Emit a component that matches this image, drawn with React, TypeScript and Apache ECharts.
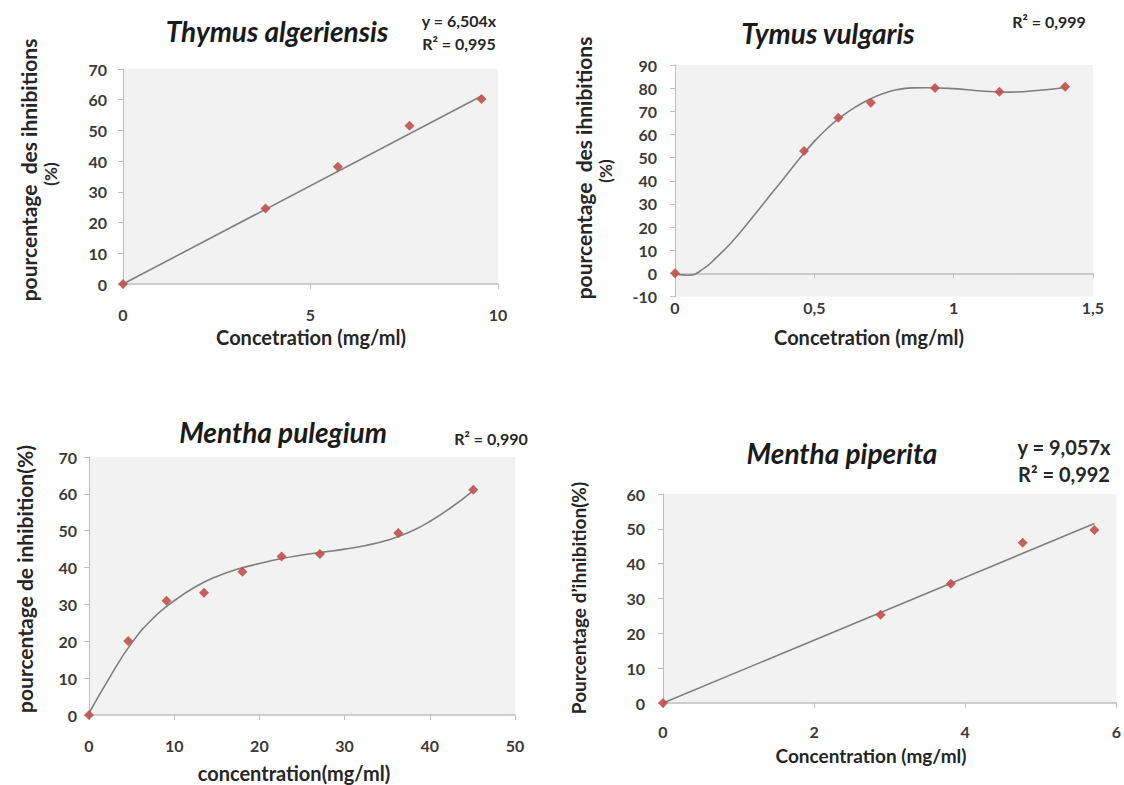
import React, { useEffect, useRef } from "react";
import * as echarts from "echarts";

// ---------- Data ----------
// Panel 1 : Thymus algeriensis
const p1X = [0, 3.8, 5.73, 7.64, 9.56];
const p1Y = [0, 24.6, 38.2, 51.5, 60.2];
const p1TrendX = [0, 9.56];
const p1TrendY = [0, 61.2];
const p1XTicks = { min: 0, max: 10, interval: 5 };
const p1YTicks = { min: 0, max: 70, interval: 10 };

// Panel 2 : Tymus vulgaris
const p2X = [0, 0.463, 0.586, 0.703, 0.933, 1.164, 1.4];
const p2Y = [0, 52.8, 67.2, 73.7, 80.1, 78.4, 80.6];
const p2CurveX = [0, 0.05, 0.1, 0.15, 0.2, 0.25, 0.3, 0.35, 0.4, 0.45, 0.5, 0.55, 0.6, 0.65, 0.7, 0.75, 0.8, 0.85, 0.9, 1.0, 1.1, 1.2, 1.3, 1.4];
const p2CurveY = [-0.3, -0.8, 1.8, 7, 13, 20, 27.5, 35, 42.5, 50, 57, 63, 68, 72, 75.3, 77.8, 79.4, 80.1, 80.2, 79.8, 78.8, 78.3, 79.0, 80.3];
const p2XTicks = { min: 0, max: 1.5, interval: 0.5 };
const p2YTicks = { min: -10, max: 90, interval: 10 };

// Panel 3 : Mentha pulegium
const p3X = [0, 4.6, 9.1, 13.5, 18.0, 22.6, 27.1, 36.3, 45.1];
const p3Y = [0, 20.1, 31.0, 33.2, 38.9, 43.0, 43.7, 49.4, 61.1];
const p3CurveX = [0, 2.5, 5, 7.5, 10, 12.5, 15, 17.5, 20, 22.5, 25, 27.5, 30, 32.5, 35, 37.5, 40, 42.5, 45];
const p3CurveY = [0.5, 10.5, 19.5, 26.2, 31, 34.8, 37.6, 39.6, 41.1, 42.4, 43.4, 44.2, 45.0, 46.0, 47.4, 49.5, 52.5, 56.3, 60.7];
const p3XTicks = { min: 0, max: 50, interval: 10 };
const p3YTicks = { min: 0, max: 70, interval: 10 };

// Panel 4 : Mentha piperita
const p4X = [0, 2.88, 3.81, 4.76, 5.71];
const p4Y = [0, 25.3, 34.2, 46.0, 49.7];
const p4TrendX = [0, 5.71];
const p4TrendY = [0, 51.5];
const p4XTicks = { min: 0, max: 6, interval: 2 };
const p4YTicks = { min: 0, max: 60, interval: 10 };

// Texts
const titles = ["Thymus algeriensis", "Tymus vulgaris", "Mentha pulegium", "Mentha piperita"];
const equations = [["y = 6,504x", "R² = 0,995"], ["R² = 0,999"], ["R² = 0,990"], ["y = 9,057x", "R² = 0,992"]];
const yNames = [
  ["pourcentage  des ihnibitions", "(%)"],
  ["pourcentage  des ihnibitions", "(%)"],
  ["pourcentage de inhibition(%)"],
  ["Pourcentage d’ihnibition(%)"],
];
const xNames = ["Concetration (mg/ml)", "Concetration (mg/ml)", "concentration(mg/ml)", "Concentration (mg/ml)"];

const zip = (xs: number[], ys: number[]) => xs.map((x, i) => [x, ys[i]]);

const FONT = "Lato, 'Open Sans', 'DejaVu Sans', sans-serif";
const AXIS_COLOR = "#bfbfbf";
const LABEL_COLOR = "#3a3a3a";
const TEXT_COLOR = "#262626";
const LINE_COLOR = "#7f7f7f";
const MARK_COLOR = "#c0504d";

const fmt = (v: number) => String(v).replace(".", ",");

function yAxisOf(gridIndex: number, t: { min: number; max: number; interval: number }, margin: number) {
  return {
    type: "value",
    gridIndex,
    min: t.min,
    max: t.max,
    interval: t.interval,
    axisLine: { show: true, lineStyle: { color: AXIS_COLOR, width: 1 } },
    axisTick: { show: true, length: 5, lineStyle: { color: AXIS_COLOR } },
    axisLabel: { fontFamily: FONT, fontWeight: "bold", fontSize: 16, color: LABEL_COLOR, margin, formatter: fmt },
    splitLine: { show: false },
  };
}

function xAxisOf(gridIndex: number, t: { min: number; max: number; interval: number }, margin: number, extra: any = {}) {
  return {
    type: "value",
    gridIndex,
    position: "bottom",
    min: t.min,
    max: t.max,
    interval: t.interval,
    axisLine: { show: true, onZero: false, lineStyle: { color: AXIS_COLOR, width: 1.5 } },
    axisTick: { show: true, length: 5, lineStyle: { color: AXIS_COLOR } },
    axisLabel: { fontFamily: FONT, fontWeight: "bold", fontSize: 16, color: LABEL_COLOR, margin, formatter: fmt },
    splitLine: { show: false },
    ...extra,
  };
}

function lineSeries(xi: number, yi: number, data: number[][], smooth: boolean) {
  return {
    type: "line",
    xAxisIndex: xi,
    yAxisIndex: yi,
    data,
    smooth: smooth ? 0.5 : false,
    showSymbol: false,
    symbol: "none",
    lineStyle: { color: LINE_COLOR, width: 1.6 },
    z: 2,
  };
}

function pointSeries(xi: number, yi: number, data: number[][]) {
  return {
    type: "scatter",
    xAxisIndex: xi,
    yAxisIndex: yi,
    data,
    symbol: "diamond",
    symbolSize: 10,
    itemStyle: { color: MARK_COLOR, opacity: 0.9 },
    z: 3,
  };
}

function text(t: string, x: number, y: number, size: number, opts: any = {}) {
  return {
    type: "text",
    x,
    y,
    rotation: opts.rotation || 0,
    style: {
      text: t,
      fontFamily: FONT,
      fontWeight: "bold",
      fontStyle: opts.italic ? "italic" : "normal",
      fontSize: size,
      fill: opts.color || TEXT_COLOR,
      align: "center",
      verticalAlign: "middle",
    },
  };
}

export default function App() {
  const ref = useRef<HTMLDivElement>(null);

  useEffect(() => {
    if (!ref.current) return;
    const chart = echarts.init(ref.current, undefined, { renderer: "svg" });
    const gridStyle = { show: true, backgroundColor: "#f2f2f2", borderWidth: 0, containLabel: false };
    const R = Math.PI / 2;

    const option: any = {
      animation: false,
      backgroundColor: "#ffffff",
      grid: [
        { left: 123, top: 69, width: 375, height: 215, ...gridStyle },
        { left: 675, top: 65, width: 418, height: 231.5, ...gridStyle },
        { left: 89, top: 457, width: 426, height: 258, ...gridStyle },
        { left: 663, top: 494, width: 455, height: 209, ...gridStyle },
      ],
      xAxis: [
        xAxisOf(0, p1XTicks, 22),
        xAxisOf(1, p2XTicks, 3, { axisLine: { show: false, onZero: false }, axisTick: { show: false } }),
        xAxisOf(2, p3XTicks, 22),
        xAxisOf(3, p4XTicks, 20),
        xAxisOf(1, p2XTicks, 3, {
          axisLine: { show: true, onZero: true, lineStyle: { color: AXIS_COLOR, width: 1.5 } },
          axisLabel: { show: false },
        }),
      ],
      yAxis: [
        yAxisOf(0, p1YTicks, 16),
        yAxisOf(1, p2YTicks, 18),
        yAxisOf(2, p3YTicks, 12),
        yAxisOf(3, p4YTicks, 18),
      ],
      series: [
        lineSeries(0, 0, zip(p1TrendX, p1TrendY), false),
        pointSeries(0, 0, zip(p1X, p1Y)),
        lineSeries(1, 1, zip(p2CurveX, p2CurveY), true),
        pointSeries(1, 1, zip(p2X, p2Y)),
        lineSeries(2, 2, zip(p3CurveX, p3CurveY), true),
        pointSeries(2, 2, zip(p3X, p3Y)),
        lineSeries(3, 3, zip(p4TrendX, p4TrendY), false),
        pointSeries(3, 3, zip(p4X, p4Y)),
      ],
      graphic: [
        // titles
        text(titles[0], 277, 31, 28, { italic: true, color: "#1a1a1a" }),
        text(titles[1], 828, 33, 28, { italic: true, color: "#1a1a1a" }),
        text(titles[2], 283, 432, 28, { italic: true, color: "#1a1a1a" }),
        text(titles[3], 842, 453, 28, { italic: true, color: "#1a1a1a" }),
        // equations
        text(equations[0][0], 459, 20, 16),
        text(equations[0][1], 459, 43, 16),
        text(equations[1][0], 1049, 21, 16),
        text(equations[2][0], 491, 438, 16),
        text(equations[3][0], 1064, 447, 20),
        text(equations[3][1], 1064, 474, 20),
        // y axis names
        text(yNames[0][0], 28, 170, 21, { rotation: R }),
        text(yNames[0][1], 50, 174, 17, { rotation: R }),
        text(yNames[1][0], 583, 168, 21, { rotation: R }),
        text(yNames[1][1], 605, 171, 17, { rotation: R }),
        text(yNames[2][0], 24, 579, 21, { rotation: R }),
        text(yNames[3][0], 578, 598, 19, { rotation: R }),
        // x axis names
        text(xNames[0], 311, 337, 20),
        text(xNames[1], 869, 337, 20),
        text(xNames[2], 294, 773, 20),
        text(xNames[3], 871, 755, 19),
      ],
    };
    chart.setOption(option);
    return () => chart.dispose();
  }, []);

  return (
    <div
      ref={ref}
      style={{ position: "fixed", left: 0, top: 0, width: 1124, height: 785, background: "#fff" }}
    />
  );
}
